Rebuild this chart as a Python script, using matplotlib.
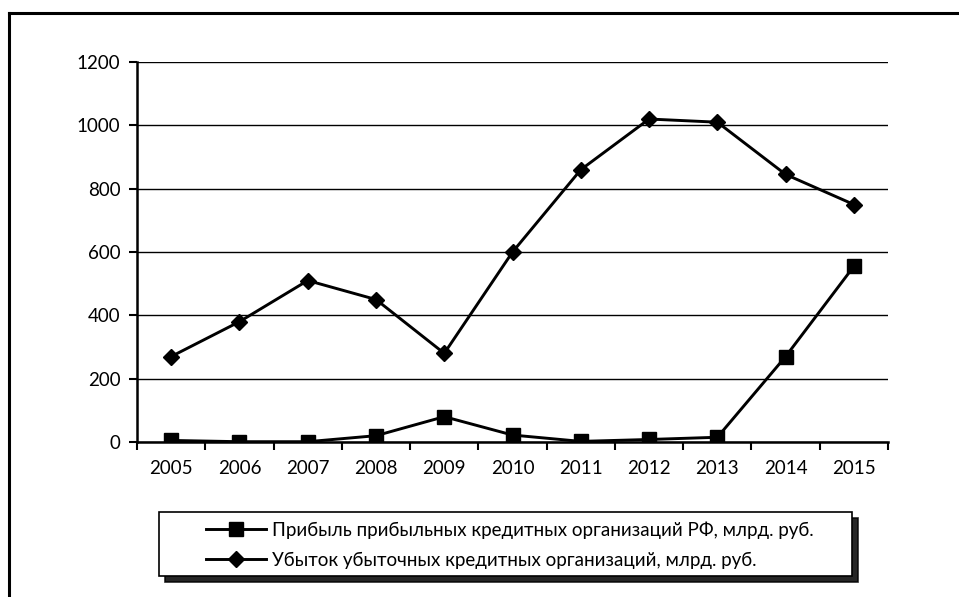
import matplotlib
matplotlib.use('Agg')
import matplotlib.pyplot as plt
from matplotlib.lines import Line2D
from matplotlib.patches import Rectangle, Shadow

plt.rcParams['font.family'] = ['Lato', 'DejaVu Sans']

years = ['2005', '2006', '2007', '2008', '2009', '2010',
         '2011', '2012', '2013', '2014', '2015']
profit = [5, 1, 1, 20, 80, 22, 2, 8, 15, 270, 555]
loss = [270, 380, 510, 450, 280, 600, 860, 1020, 1010, 845, 750]
label_profit = 'Прибыль прибыльных кредитных организаций РФ, млрд. руб.'
label_loss = 'Убыток убыточных кредитных организаций, млрд. руб.'
yticks = [0, 200, 400, 600, 800, 1000, 1200]

W, H = 959, 597
fig = plt.figure(figsize=(W / 100, H / 100), dpi=100)
ax = fig.add_axes([0.1429, 0.2596, 0.7831, 0.6365])

x = list(range(len(years)))
ax.plot(x, profit, color='black', lw=2.1, marker='s', ms=10, label=label_profit)
ax.plot(x, loss, color='black', lw=2.1, marker='D', ms=8.5, label=label_loss)

ax.set_xlim(-0.5, len(years) - 0.5)
ax.set_ylim(0, 1200)
ax.set_yticks(yticks)
ax.set_xticks(x)
ax.set_xticklabels(years)
ax.set_xticks([i - 0.5 for i in range(len(years) + 1)], minor=True)
ax.tick_params(axis='x', which='major', length=0, pad=13, labelsize=13.5)
ax.tick_params(axis='x', which='minor', length=6, width=1.5, direction='out')
ax.tick_params(axis='y', length=6, width=1.5, direction='out', pad=6, labelsize=13.5)
ax.yaxis.grid(True, color='black', lw=1)
ax.set_axisbelow(True)
for s in ['top', 'right']:
    ax.spines[s].set_visible(False)
ax.spines['left'].set_linewidth(1.8)
ax.spines['bottom'].set_linewidth(1.8)

# legend box with dark drop shadow
box = Rectangle((159 / W, 1 - 576 / H), (852 - 159) / W, 64 / H,
                transform=fig.transFigure, facecolor='white',
                edgecolor='black', lw=1.2, zorder=1)
shadow = Shadow(box, 4 / W, -4 / H, color='black', alpha=0.85, zorder=0.9)
fig.add_artist(shadow)
fig.add_artist(box)

leg = fig.legend(loc='center left', bbox_to_anchor=(197 / W, 1 - 545 / H),
                 frameon=False, fontsize=13.5,
                 handlelength=3.2, handletextpad=0.3, borderpad=0.0,
                 labelspacing=0.7)
leg.set_zorder(2)

# outer chart border (left and top edges visible)
fig.add_artist(Line2D([9 / W, 9 / W], [0, 1 - 13 / H], color='black', lw=2.2))
fig.add_artist(Line2D([9 / W, 1], [1 - 13 / H, 1 - 13 / H], color='black', lw=2.2))

fig.savefig('out.png', dpi=100)
